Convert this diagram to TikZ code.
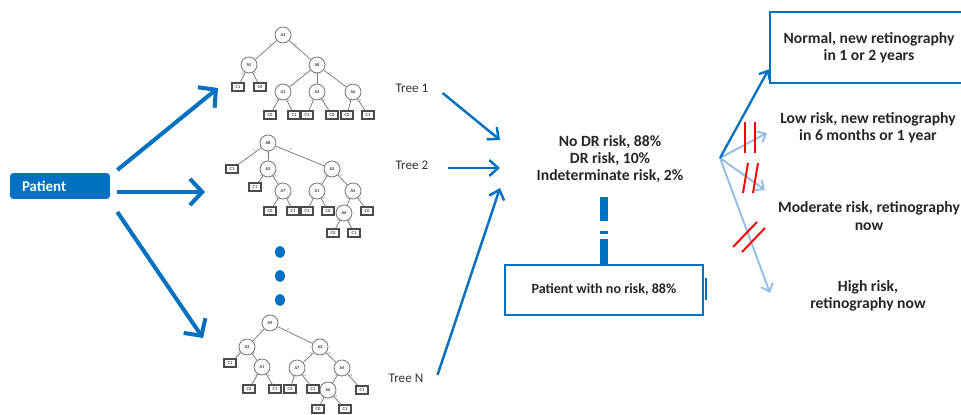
\documentclass[tikz,border=0pt]{standalone}
\usepackage{fontspec}
\setmainfont{Carlito}
\usetikzlibrary{arrows.meta}

\definecolor{drblue}{RGB}{0,112,192}
\definecolor{paleblue}{RGB}{150,190,228}
\definecolor{treegray}{RGB}{125,125,125}

\tikzset{
  attr/.style={circle,draw=treegray,line width=0.5pt,fill=white,minimum size=0.32cm,inner sep=0pt,font=\fontsize{2.6}{3}\selectfont},
  leaf/.style={rectangle,draw=treegray!60!black,line width=0.6pt,fill=white,minimum width=0.24cm,minimum height=0.16cm,inner sep=0pt,font=\fontsize{2.6}{3}\selectfont},
  edge/.style={draw=treegray,line width=0.45pt},
  elab/.style={font=\fontsize{1.8}{2}\selectfont,text=treegray,inner sep=0.4pt},
  bigarrow/.style={drblue,line width=2.3pt,-{Straight Barb[length=7pt,width=15pt]}},
  treearrow/.style={drblue,line width=1.4pt,-{Straight Barb[length=5pt,width=9pt]}},
  palearrow/.style={paleblue,line width=1.1pt,-{Straight Barb[length=4pt,width=7pt]}},
  darkarrow/.style={drblue,line width=1.3pt,-{Straight Barb[length=4pt,width=7pt]}},
  cut/.style={red,line width=1.1pt},
  bar/.style={drblue,line width=4pt,dash pattern=on 0.5cm off 0.1cm on 0.06cm off 0.2cm on 0.5cm},
  patientbox/.style={fill=drblue,rounded corners=2pt,text=white,font=\fontsize{8.5}{10}\selectfont\bfseries,minimum height=0.52cm,text width=1.52cm,inner xsep=0.24cm,align=left},
  riskbox/.style={draw=drblue,line width=1.6pt,align=center},
  bigtext/.style={font=\fontsize{8.9}{9.8}\selectfont\bfseries,text=black!85,align=center},
  treelabel/.style={font=\fontsize{7.5}{9}\selectfont,text=black!80}
}

\begin{document}
\begin{tikzpicture}[x=0.02cm,y=-0.02cm]
\clip (0,0) rectangle (961,415);

%patient box
\node[patientbox] (patient) at (60,186) {Patient};

%tree 1
\foreach \n/\x/\y/\t in {t1n1/283/35/A2,t1n2/249/65/A5,t1n3/317/65/A8,t1n4/283/92/A1,t1n5/317/92/A3,t1n6/353/92/A6}
  \node[attr] (\n) at (\x,\y) {\t};
\foreach \n/\x/\y/\t in {t1c1/238/87/C1,t1c2/260/87/C0,t1c3/270/115/C0,t1c4/294/115/C1,t1c5/307/115/C1,t1c6/332/115/C0,t1c7/347/115/C0,t1c8/368/115/C1}
  \node[leaf] (\n) at (\x,\y) {\t};
\foreach \a/\b/\l in {t1n1/t1n2/v1,t1n1/t1n3/v2,t1n2/t1c1/v1,t1n2/t1c2/v2,t1n3/t1n4/v1,t1n3/t1n5/v2,t1n3/t1n6/v3,t1n4/t1c3/v1,t1n4/t1c4/v2,t1n5/t1c5/v1,t1n5/t1c6/v2,t1n6/t1c7/v1,t1n6/t1c8/v2}
  \draw[edge] (\a) -- node[elab,pos=0.3,above]{\l} (\b);
\node[treelabel] (lab1) at (412,88) {Tree 1};

%tree 2
\foreach \n/\x/\y/\t in {t2n1/268/143/A8,t2n2/268/169/A3,t2n3/332/169/A2,t2n4/283/191/A7,t2n5/317/191/A1,t2n6/353/191/A4,t2n7/344/213/A6}
  \node[attr] (\n) at (\x,\y) {\t};
\foreach \n/\x/\y/\t in {t2c1/232/169/C1,t2c2/255/187/C1,t2c3/270/211/C0,t2c4/293/211/C1,t2c5/307/211/C1,t2c6/328/211/C0,t2c7/367/211/C0,t2c8/333/233/C0,t2c9/354/233/C1}
  \node[leaf] (\n) at (\x,\y) {\t};
\foreach \a/\b/\l in {t2n1/t2c1/v1,t2n1/t2n2/v2,t2n1/t2n3/v3,t2n2/t2c2/v1,t2n2/t2n4/v2,t2n4/t2c3/v1,t2n4/t2c4/v2,t2n3/t2n5/v1,t2n3/t2n6/v2,t2n5/t2c5/v1,t2n5/t2c6/v2,t2n6/t2n7/v1,t2n6/t2c7/v2,t2n7/t2c8/v1,t2n7/t2c9/v2}
  \draw[edge] (\a) -- node[elab,pos=0.3,above]{\l} (\b);
\node[treelabel] (lab2) at (412,165) {Tree 2};

%dots between the trees
\foreach \y in {252,276,300}
  \fill[drblue] (280,\y) ellipse [x radius=5,y radius=6];

%tree N
\foreach \n/\x/\y/\t in {t3n1/270/323/A9,t3n2/247/347/A3,t3n3/320/347/A2,t3n4/262/367/A1,t3n5/297/368/A7,t3n6/342/368/A4,t3n7/328/390/A6}
  \node[attr] (\n) at (\x,\y) {\t};
\foreach \n/\x/\y/\t in {t3c1/230/363/C1,t3c2/249/389/C0,t3c3/275/389/C1,t3c4/290/389/C0,t3c5/313/389/C1,t3c6/362/390/C1,t3c7/318/409/C0,t3c8/345/409/C1}
  \node[leaf] (\n) at (\x,\y) {\t};
\foreach \a/\b/\l in {t3n1/t3n2/v1,t3n1/t3n3/v2,t3n2/t3c1/v1,t3n2/t3n4/v2,t3n4/t3c2/v1,t3n4/t3c3/v2,t3n3/t3n5/v1,t3n3/t3n6/v2,t3n5/t3c4/v1,t3n5/t3c5/v2,t3n6/t3n7/v1,t3n6/t3c6/v2,t3n7/t3c7/v1,t3n7/t3c8/v2}
  \draw[edge] (\a) -- node[elab,pos=0.3,above]{\l} (\b);
\node[treelabel] (lab3) at (406,378) {Tree N};

%arrows from patient to the trees
\coordinate (t1in) at (218,88);
\coordinate (t2in) at (205,192);
\coordinate (t3in) at (203,338);
\draw[bigarrow] ([shift={(7,-16)}]patient.east) -- (t1in);
\draw[bigarrow] ([shift={(7,6)}]patient.east) -- (t2in);
\draw[bigarrow] ([shift={(7,26)}]patient.east) -- (t3in);

%risk estimate
\node[bigtext] (stats) at (610,159) {No DR risk, 88\%\\DR risk, 10\%\\Indeterminate risk, 2\%};
\coordinate (s1) at (500,140);
\coordinate (s2) at (500,168);
\coordinate (s3) at (500,188);
\draw[treearrow] ([shift={(8,5)}]lab1.east) -- (s1);
\draw[treearrow] ([shift={(13,3)}]lab2.east) -- (s2);
\draw[treearrow] ([shift={(8,-3)}]lab3.east) -- (s3);

%patients with no risk
\node[riskbox,bigtext,font=\fontsize{8}{9.6}\selectfont\bfseries,minimum width=3.96cm,minimum height=1cm] (norisk) at (604,290) {Patient with no risk, 88\%};
\draw[drblue,line width=1.2pt] (706,278) -- (706,300);
\coordinate (bartop) at (604,197);
\draw[bar] (norisk.north) -- (bartop);

%outcomes
\node[riskbox,bigtext,minimum width=3.96cm,minimum height=1.42cm] (normal) at (869,47.5) {Normal, new retinography\\in 1 or 2 years};
\node[bigtext] (low) at (868,128) {Low risk, new retinography\\in 6 months or 1 year};
\node[bigtext] (moderate) at (869,216) {Moderate risk, retinography\\now};
\node[bigtext] (high) at (868,296) {High risk,\\retinography now};

\coordinate (fork) at (720,158);
\coordinate (lowtip) at (767,133);
\coordinate (modtip) at (765,190);
\coordinate (hightip) at (770,293);
\draw[palearrow] (fork) -- (lowtip);
\draw[palearrow] (fork) -- (modtip);
\draw[palearrow] (fork) -- (hightip);
\draw[darkarrow] (fork) -- ([shift={(0,-15)}]normal.south west);

%crossed out paths
\draw[cut] (745,122) -- (745,153);
\draw[cut] (755,122) -- (755,153);
\draw[cut] (748,163) -- (743,193);
\draw[cut] (758,163) -- (753,193);
\draw[cut] (757,222) -- (733,247);
\draw[cut] (765,228) -- (742,252);
\end{tikzpicture}
\end{document}
